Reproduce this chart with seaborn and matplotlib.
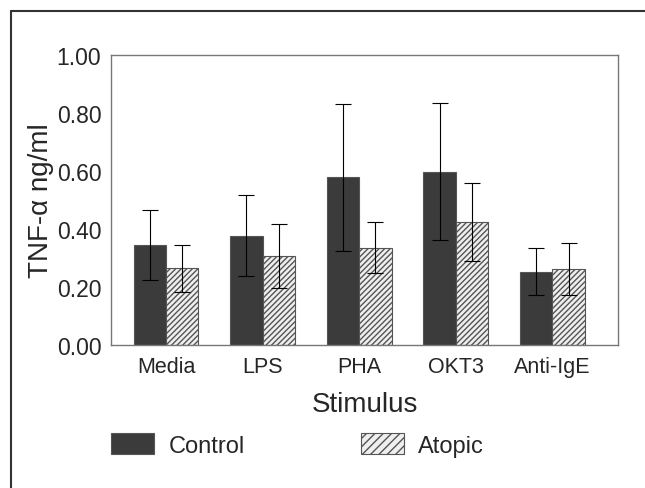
import numpy as np
import matplotlib
matplotlib.use("Agg")
import matplotlib.pyplot as plt
from matplotlib.lines import Line2D
from matplotlib.patches import Patch
import seaborn as sns
import pandas as pd

# values
stimulus = ["Media", "LPS", "PHA", "OKT3", "Anti-IgE"]
control_mean = [0.344, 0.377, 0.578, 0.598, 0.253]
control_sd = [0.120, 0.140, 0.253, 0.236, 0.080]
atopic_mean = [0.264, 0.308, 0.336, 0.423, 0.261]
atopic_sd = [0.081, 0.110, 0.088, 0.134, 0.090]
groups = ["Control", "Atopic"]

df = pd.DataFrame({
    "Stimulus": stimulus * 2,
    "Group": ["Control"] * 5 + ["Atopic"] * 5,
    "TNF": control_mean + atopic_mean,
    "SD": control_sd + atopic_sd,
})

sns.set_style("white")
plt.rcParams["font.family"] = ["Liberation Sans", "DejaVu Sans"]
plt.rcParams["hatch.linewidth"] = 1.0
plt.rcParams["hatch.color"] = "#222222"

fig = plt.figure(figsize=(6.45, 4.89), dpi=100)
ax = fig.add_axes([111 / 645, 1 - 346 / 489, 507 / 645, 290 / 489])

sns.barplot(data=df, x="Stimulus", y="TNF", hue="Group", order=stimulus,
            hue_order=groups, palette=["#3b3b3b", "#efefef"], saturation=1,
            width=0.67, errorbar=None, edgecolor="#555555", linewidth=0.8,
            legend=False, ax=ax)

# hatch the atopic bars and add the error bars at the bar centres
bars = [p for p in ax.patches if p.get_height() > 0]
for i, bar in enumerate(bars):
    g = i // 5
    k = i % 5
    sd = control_sd[k] if g == 0 else atopic_sd[k]
    if g == 1:
        bar.set_hatch("//////")
    cx = bar.get_x() + bar.get_width() / 2
    ax.errorbar(cx, bar.get_height(), yerr=sd, color="black", lw=0.8,
                capsize=6, capthick=0.8, fmt="none", zorder=5)

ax.set_xlim(-0.57, 4.68)
ax.set_ylim(0, 1.0)
ax.set_yticks([0, 0.2, 0.4, 0.6, 0.8, 1.0])
ax.set_yticklabels(["%.2f" % v for v in [0, 0.2, 0.4, 0.6, 0.8, 1.0]], fontsize=16.5)
ax.tick_params(axis="y", direction="in", length=6, width=0.8, color="#777777", pad=7)
ax.tick_params(axis="x", length=0, pad=8, labelsize=15.5)
for s in ax.spines.values():
    s.set_color("#777777")
    s.set_linewidth(1.0)

ax.set_xlabel("Stimulus", fontsize=20, labelpad=10)
ax.set_ylabel("TNF-\u03b1 ng/ml", fontsize=20, labelpad=2)

handles = [Patch(facecolor="#3b3b3b", edgecolor="#555555", lw=0.8),
           Patch(facecolor="#efefef", edgecolor="#555555", lw=0.8, hatch="////")]
fig.legend(handles, groups, loc="center left", ncol=2,
           bbox_to_anchor=(111 / 645, 1 - 446 / 489), frameon=False,
           fontsize=17, handlelength=1.82, handleheight=1.0,
           handletextpad=0.62, columnspacing=4.9, borderpad=0, borderaxespad=0)

# outer frame lines (top and left only)
fig.add_artist(Line2D([11 / 645, 1], [1 - 12 / 489, 1 - 12 / 489], color="#333333", lw=1.5))
fig.add_artist(Line2D([11 / 645, 11 / 645], [0, 1 - 12 / 489], color="#333333", lw=1.5))

fig.savefig("out.png", dpi=100)
